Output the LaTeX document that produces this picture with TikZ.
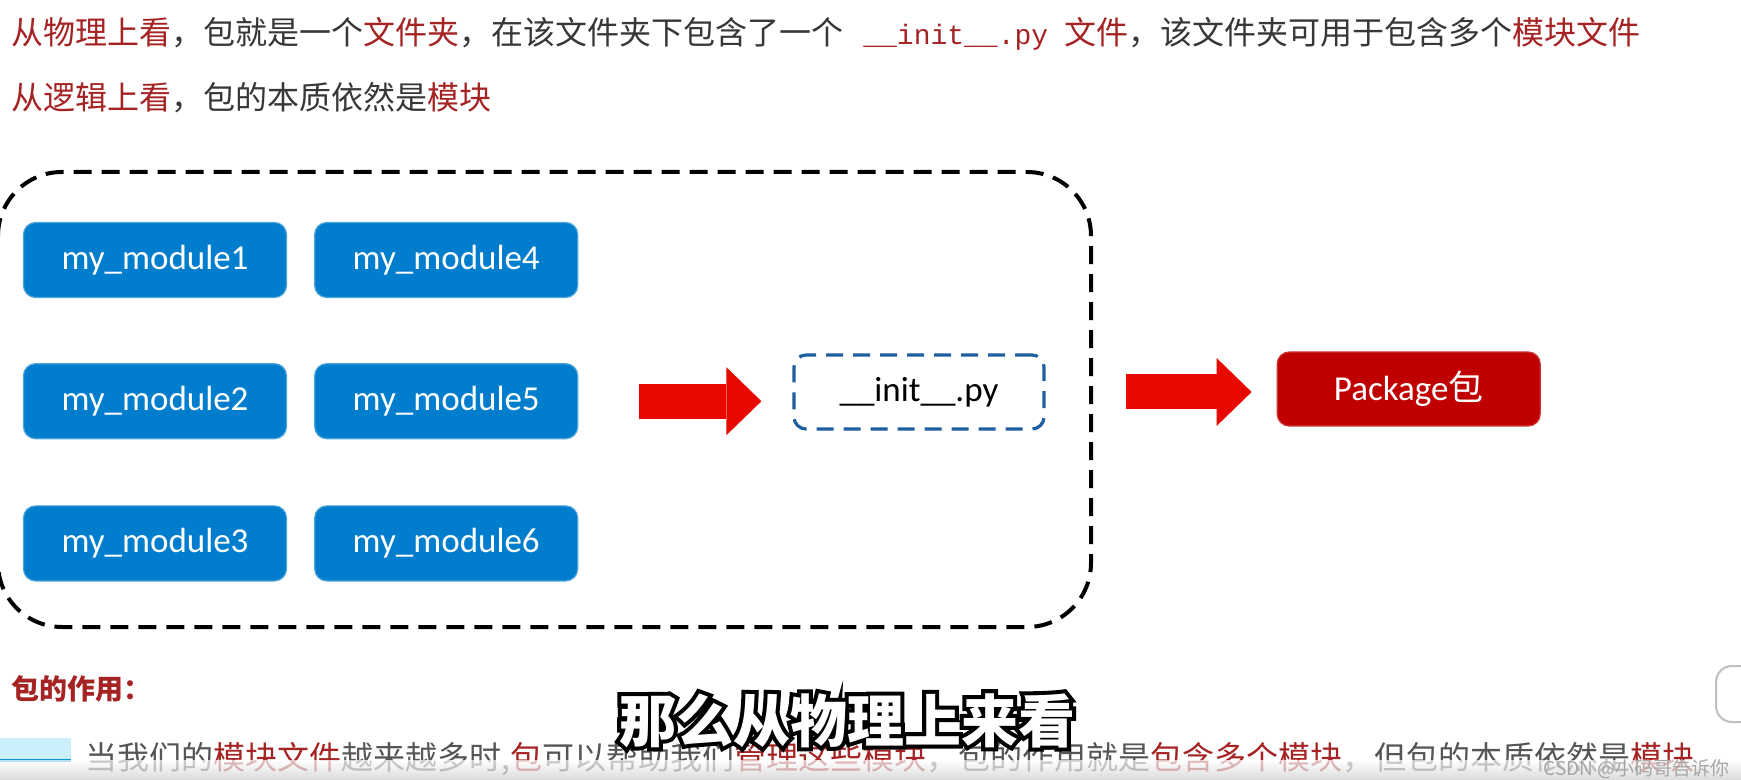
\documentclass[tikz,border=0pt]{standalone}
\usepackage{fontspec}
\setmainfont{Carlito}
\newfontfamily\cjk{Noto Sans CJK SC}
\newfontfamily\cjkout[BoldFeatures={FakeBold=14}]{Noto Sans CJK SC}
\newfontfamily\codefont{Liberation Mono}
\usepackage{xcolor}
\usepackage{tikz}
\usetikzlibrary{arrows.meta,positioning}

\definecolor{modblue}{RGB}{0,125,204}
\definecolor{initblue}{RGB}{30,95,160}
\definecolor{pkgred}{RGB}{192,0,0}
\definecolor{arrowred}{RGB}{232,8,0}
\definecolor{txtred}{RGB}{165,35,35}
\definecolor{txtgray}{RGB}{55,55,55}
\newcommand{\redtxt}[1]{\textcolor{txtred}{#1}}

\begin{document}
\begin{tikzpicture}[
    x=0.5pt, y=-0.5pt,
    node distance=13.5pt,
    module/.style={rectangle, draw=modblue!70!white, fill=modblue, rounded corners=6pt, line width=0.6pt,
                   minimum width=131.5pt, minimum height=37.5pt, text=white, font=\fontsize{17.5}{21}\selectfont},
    initbox/.style={rectangle, draw=initblue, line width=1.6pt, dash pattern=on 8.5pt off 5pt, rounded corners=6pt,
                    minimum width=125pt, minimum height=37pt, font=\fontsize{17.5}{21}\selectfont},
    pkgbox/.style={rectangle, draw=pkgred!80!white, fill=pkgred, rounded corners=6pt, line width=0.6pt,
                   minimum width=131.5pt, minimum height=37pt, text=white, font=\fontsize{17.5}{21}\selectfont},
    folder/.style={draw=black, line width=2pt, dash pattern=on 9pt off 5pt, rounded corners=32pt},
    fatarrow/.style={draw=arrowred, line width=17.5pt, -{Triangle[length=17.5pt, width=34pt, line width=0pt]}},
    textline/.style={anchor=base west, inner sep=0pt, text=txtgray, font=\cjk\fontsize{16}{20}\selectfont},
    subtitle/.style={anchor=base, inner sep=0pt, font=\fontsize{28.5}{32}\selectfont}
]
\useasboundingbox (0,0) rectangle (1741,780);
\clip (0,0) rectangle (1741,780);
\fill[white] (0,0) rectangle (1741,780);

\node[textline] (phys) at (11,45) {\redtxt{从物理上看}，包就是一个\redtxt{文件夹}，在该文件夹下包含了一个\hspace{10pt}\redtxt{{\codefont\fontsize{14}{16}\selectfont \_\_init\_\_.py}\hspace{8pt}文件}，该文件夹可用于包含多个\redtxt{模块文件}};
\node[textline] (logic) at (11,110) {\redtxt{从逻辑上看}，包的本质依然是\redtxt{模块}};

\draw[folder] (-2,172) rectangle (1091,627);

\node[module] (mod1) at (155,260) {my\_module1};
\node[module, below=32.5pt of mod1] (mod2) {my\_module2};
\node[module, below=33pt of mod2] (mod3) {my\_module3};
\node[module, right=13.5pt of mod1] (mod4) {my\_module4};
\node[module, right=13.5pt of mod2] (mod5) {my\_module5};
\node[module, right=13.5pt of mod3] (mod6) {my\_module6};

\node[initbox] (init) at (919,392) {\_\_init\_\_.py};
\node[pkgbox, right=115.5pt of init, yshift=1.5pt] (pkg) {Package{\cjk 包}};

\draw[fatarrow, shorten <=30.5pt, shorten >=15.5pt] (mod5.east) -- (mod5.east -| init.west);
\draw[fatarrow, shorten <=40pt, shorten >=12.5pt] (init.east) -- (init.east -| pkg.west);

\node[textline, text=txtred, font=\cjk\bfseries\fontsize{14}{18}\selectfont] (role) at (11,699) {包的作用：};
\node[textline, text=txtgray!85] (usage) at (85,769) {当我们的\redtxt{模块文件}越来越多时,\redtxt{包}可以帮助我们\redtxt{管理这些模块}，包的作用就是\redtxt{包含多个模块}，但包的本质依然是\redtxt{模块}};

\fill[cyan!20] (0,738) rectangle (71,760);
\fill[cyan!80!blue] (0,759) rectangle (71,762);
\shade[top color=white, bottom color=black!20, opacity=0.7] (0,760) rectangle (1741,780);
\draw[gray!50, fill=white, rounded corners=8pt, line width=1pt] (1716,666) rectangle (1760,722);

\node[subtitle, text=black, font=\cjkout\bfseries\fontsize{28.5}{32}\selectfont] (subout) at (847,742) {那么从物理上来看};
\node[subtitle, text=white, font=\cjk\bfseries\fontsize{28.5}{32}\selectfont] (sub) at (847,742) {那么从物理上来看};

\node[anchor=base west, inner sep=0pt, text=gray!70, font=\cjk\fontsize{9.5}{12}\selectfont] (mark) at (1543,775) {CSDN @小码哥告诉你};
\end{tikzpicture}
\end{document}
